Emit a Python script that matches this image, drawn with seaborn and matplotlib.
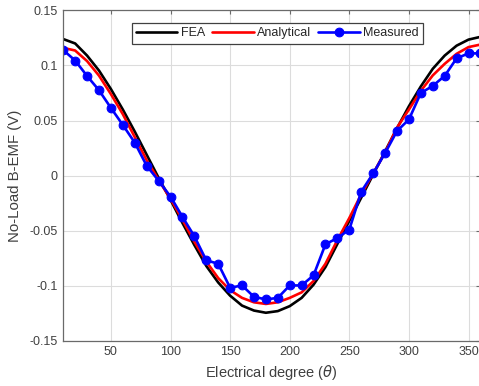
import numpy as np
import pandas as pd
import matplotlib
matplotlib.use("Agg")
import matplotlib.pyplot as plt
import seaborn as sns

# electrical angle (deg)
theta = list(range(10, 361, 10))

fea = [0.124, 0.120, 0.109, 0.0954, 0.0786, 0.060, 0.040, 0.019, -0.002, -0.022,
       -0.043, -0.063, -0.082, -0.097, -0.109, -0.118, -0.1225, -0.1245, -0.123, -0.1185,
       -0.111, -0.099, -0.083, -0.062, -0.041, -0.020, 0.001, 0.022, 0.043, 0.063,
       0.081, 0.097, 0.109, 0.118, 0.1235, 0.126]

analytical = [0.116, 0.1136, 0.104, 0.0908, 0.074, 0.0558, 0.035, 0.014, -0.004, -0.021,
              -0.040, -0.060, -0.078, -0.093, -0.104, -0.111, -0.115, -0.1165, -0.115, -0.111,
              -0.106, -0.0957, -0.080, -0.0585, -0.0385, -0.017, 0.002, 0.021, 0.0436, 0.060,
              0.077, 0.091, 0.1015, 0.1106, 0.1167, 0.119]

measured = [0.114, 0.1045, 0.0905, 0.0775, 0.0615, 0.046, 0.030, 0.009, -0.0046, -0.019,
            -0.0374, -0.055, -0.0769, -0.080, -0.1018, -0.0997, -0.110, -0.1124, -0.111, -0.0997,
            -0.0997, -0.0905, -0.0623, -0.0567, -0.049, -0.0146, 0.002, 0.0205, 0.0405, 0.051,
            0.0750, 0.0815, 0.0905, 0.1065, 0.111, 0.111]

df = pd.DataFrame({"theta": theta, "FEA": fea, "Analytical": analytical, "Measured": measured})

sns.set_theme(style="whitegrid")
plt.rcParams["font.family"] = ["Liberation Sans", "DejaVu Sans"]

fig = plt.figure(figsize=(4.79, 3.86), dpi=100)
ax = fig.add_axes([0.132, 0.117, 0.871, 0.856])

sns.lineplot(data=df, x="theta", y="FEA", ax=ax, color="black", lw=1.9, label="FEA")
sns.lineplot(data=df, x="theta", y="Analytical", ax=ax, color="#ff0000", lw=1.9, label="Analytical")
sns.lineplot(data=df, x="theta", y="Measured", ax=ax, color="#0000ff", lw=1.9,
             marker="o", markersize=6.3, markeredgecolor="#0000ff", label="Measured")

ax.set_xlim(10, 360)
ax.set_ylim(-0.15, 0.15)
ax.set_xticks([50, 100, 150, 200, 250, 300, 350])
ax.set_yticks([-0.15, -0.1, -0.05, 0, 0.05, 0.1, 0.15])
ax.set_yticklabels(["-0.15", "-0.1", "-0.05", "0", "0.05", "0.1", "0.15"])

ax.set_xlabel(r"Electrical degree ($\theta$)", fontsize=10.5, color="#404040", labelpad=3)
ax.set_ylabel("No-Load B-EMF (V)", fontsize=10.8, color="#404040", labelpad=5)

ax.grid(True, color="#dcdcdc", lw=0.8)
for s in ax.spines.values():
    s.set_color("#6a6a6a")
    s.set_linewidth(0.9)
ax.tick_params(axis="both", direction="in", length=3, width=0.8, color="#6a6a6a",
               labelsize=9, labelcolor="#404040", top=True, right=True, pad=4)

leg = ax.legend(loc="upper center", bbox_to_anchor=(0.513, 0.962), ncol=3, fontsize=9,
                frameon=True, fancybox=False, edgecolor="#404040", framealpha=1,
                handlelength=3.3, handletextpad=0.25, columnspacing=0.6,
                borderpad=0.35, borderaxespad=0.0)
leg.get_frame().set_linewidth(0.9)
for t in leg.get_texts():
    t.set_color("#262626")

fig.savefig("out.png", dpi=100)
